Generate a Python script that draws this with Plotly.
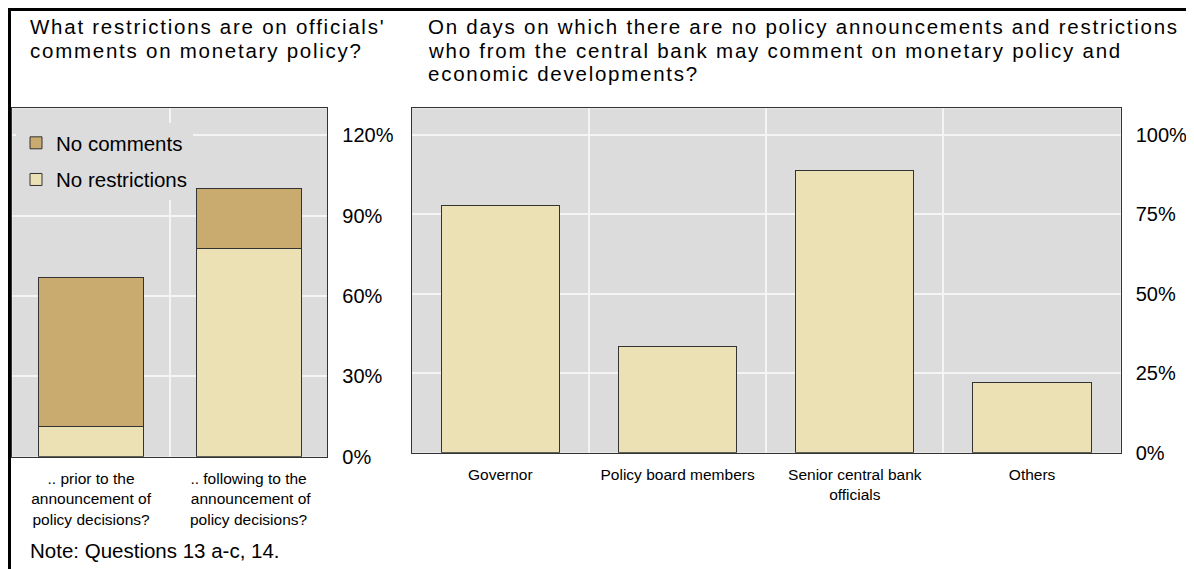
import plotly.graph_objects as go

# ---------------- data ----------------
left_categories = [".. prior to the<br>announcement of<br>policy decisions?",
                   ".. following to the<br> announcement of<br>policy decisions?"]
no_restrictions = [11.1, 77.8]
no_comments = [55.6, 22.2]

right_categories = ["Governor", "Policy board members",
                    "Senior central bank<br>officials", "Others"]
right_values = [77.8, 33.3, 88.9, 22.2]

left_tickvals = [0, 30, 60, 90, 120]
left_ticktext = ["0%", "30%", "60%", "90%", "120%"]
right_tickvals = [0, 25, 50, 75, 100]
right_ticktext = ["0%", "25%", "50%", "75%", "100%"]

left_title = ["What restrictions are on officials'", "comments on monetary policy?"]
right_title = ["On days on which there are no policy announcements and restrictions",
               "who from the central bank may comment on monetary policy and",
               "economic developments?"]
note = "Note: Questions 13 a-c, 14."

# ---------------- style ----------------
# the page body has an 8px margin, so the figure is drawn 8px in from the window edge
OFF = 8
W, H = 1194 - OFF, 569 - OFF
FONT = "Arial, 'Liberation Sans', sans-serif"
C_LIGHT = "#ECE1B4"
C_DARK = "#C9AA6F"
PLOT_BG = "#DCDCDC"
GRID = "#F4F4F4"
EDGE = "#333333"


def px_x(x):
    return (x - OFF) / W


def px_y(y):
    return 1 - (y - OFF) / H


fig = go.Figure()

fig.add_trace(go.Bar(x=left_categories, y=no_restrictions, name="No restrictions",
                     marker=dict(color=C_LIGHT, line=dict(color=EDGE, width=1)),
                     xaxis="x", yaxis="y", legendgroup="nr", legendrank=2))
fig.add_trace(go.Bar(x=left_categories, y=no_comments, name="No comments",
                     marker=dict(color=C_DARK, line=dict(color=EDGE, width=1)),
                     xaxis="x", yaxis="y", legendgroup="nc", legendrank=1))
fig.add_trace(go.Bar(x=right_categories, y=right_values, name="Share",
                     marker=dict(color=C_LIGHT, line=dict(color=EDGE, width=1)),
                     xaxis="x2", yaxis="y2", showlegend=False))

axis_common = dict(showline=True, mirror=True, linecolor=EDGE, linewidth=1,
                   ticks="", zeroline=False)

fig.update_layout(
    width=W, height=H,
    margin=dict(l=0, r=0, t=0, b=0),
    paper_bgcolor="white", plot_bgcolor=PLOT_BG,
    template="none",
    font=dict(family=FONT, color="#000000"),
    barmode="stack", bargap=0.333,
    showlegend=True,
    legend=dict(x=px_x(16), y=px_y(123), xanchor="left", yanchor="top",
                traceorder="grouped", tracegroupgap=7,
                bgcolor=PLOT_BG, font=dict(size=20.5, family=FONT)),
    xaxis=dict(domain=[px_x(12.3), px_x(327.3)], anchor="y", type="category",
               tickson="boundaries", showgrid=True, gridcolor=GRID, gridwidth=1.5,
               ticklabelstandoff=8, tickfont=dict(size=15.5), **axis_common),
    yaxis=dict(domain=[px_y(456.7), px_y(108.3)], anchor="x", side="right",
               range=[0, 130], tickmode="array", tickvals=left_tickvals, ticktext=left_ticktext,
               showgrid=True, gridcolor=GRID, gridwidth=1.5,
               ticklabelstandoff=10, tickfont=dict(size=20), **axis_common),
    xaxis2=dict(domain=[px_x(411.7), px_x(1120.7)], anchor="y2", type="category",
                tickson="boundaries", showgrid=True, gridcolor=GRID, gridwidth=1.5,
                ticklabelstandoff=8, tickfont=dict(size=15.5), **axis_common),
    yaxis2=dict(domain=[px_y(452.7), px_y(108.3)], anchor="x2", side="right",
                range=[0, 108.4], tickmode="array", tickvals=right_tickvals, ticktext=right_ticktext,
                showgrid=True, gridcolor=GRID, gridwidth=1.5,
                ticklabelstandoff=10, tickfont=dict(size=20), **axis_common),
)

TITLE_SIZE = 20.5
SPACING = '<span style="letter-spacing:1.75px">{}</span>'

annotations = []
for i, line in enumerate(left_title):
    annotations.append(dict(text=SPACING.format(line), x=px_x(28), y=px_y(27 + 23.2 * i),
                            xref="paper", yref="paper", xanchor="left", yanchor="middle",
                            showarrow=False, font=dict(size=TITLE_SIZE, family=FONT)))
for i, line in enumerate(right_title):
    annotations.append(dict(text=SPACING.format(line), x=px_x(426), y=px_y(27 + 23.2 * i),
                            xref="paper", yref="paper", xanchor="left", yanchor="middle",
                            showarrow=False, font=dict(size=TITLE_SIZE, family=FONT)))
annotations.append(dict(text=note, x=px_x(28), y=px_y(550), xref="paper", yref="paper",
                        xanchor="left", yanchor="middle", showarrow=False,
                        font=dict(size=20.5, family=FONT)))
fig.update_layout(annotations=annotations)

fig.update_layout(shapes=[
    dict(type="line", xref="paper", yref="paper", x0=0, x1=1, y0=px_y(9.5), y1=px_y(9.5),
         line=dict(color="black", width=3)),
    dict(type="line", xref="paper", yref="paper", x0=px_x(9.5), x1=px_x(9.5), y0=px_y(8), y1=0,
         line=dict(color="black", width=3)),
])

fig.write_html("out.html")
